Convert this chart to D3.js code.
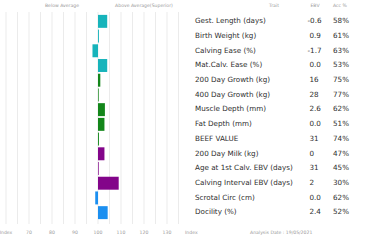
<!DOCTYPE html>
<html>
<head>
<meta charset="utf-8">
<script src="https://cdn.jsdelivr.net/npm/d3@7"></script>
<style>
  body { margin: 0; background: #fff; }
  text { font-family: "DejaVu Sans", sans-serif; }
</style>
</head>
<body>
<div id="chart"></div>
<script>
// trait table
var traits = ["Gest. Length (days)", "Birth Weight (kg)", "Calving Ease (%)", "Mat.Calv. Ease (%)",
    "200 Day Growth (kg)", "400 Day Growth (kg)", "Muscle Depth (mm)", "Fat Depth (mm)",
    "BEEF VALUE", "200 Day Milk (kg)", "Age at 1st Calv. EBV (days)", "Calving Interval EBV (days)",
    "Scrotal Circ (cm)", "Docility (%)"];
var ebv = ["-0.6", "0.9", "-1.7", "0.0", "16", "28", "2.6", "0.0", "31", "0", "31", "2", "0.0", "2.4"];
var acc = ["58%", "61%", "63%", "53%", "75%", "77%", "62%", "51%", "74%", "47%", "45%", "30%", "62%", "52%"];
// index value of each bar (100 = average)
var indexValues = [104, 100.4, 97.6, 104, 101, 100.3, 103, 102.8, 100.4, 102.8, 100.3, 109, 98.8, 104.2];
var groups = ["calving", "calving", "calving", "calving", "growth", "growth", "growth", "growth",
    "growth", "maternal", "maternal", "maternal", "other", "other"];
var axisTicks = [60, 70, 80, 90, 100, 110, 120, 130];

var width = 367, height = 242;
var colors = {calving: "#17b4bb", growth: "#13861a", maternal: "#83058a", other: "#1b8ff0"};

var svg = d3.select("#chart").append("svg")
    .attr("width", width)
    .attr("height", height);

var x = d3.scaleLinear().domain([60, 130]).range([6, 167]);
var y = d3.scaleBand().domain(d3.range(traits.length)).range([14, 220]).paddingInner(0.12).paddingOuter(0.06);

// grid lines every 5 index points
svg.append("g").selectAll("line")
    .data(d3.range(60, 140, 5))
    .enter()
    .append("line")
    .attr("x1", d => x(d)).attr("x2", d => x(d))
    .attr("y1", 12).attr("y2", 224)
    .attr("stroke", "#e6e6e6")
    .attr("stroke-width", 0.8);

// bars
svg.append("g").selectAll("rect")
    .data(indexValues)
    .enter()
    .append("rect")
    .attr("x", d => x(Math.min(d, 100)))
    .attr("width", d => Math.abs(x(d) - x(100)))
    .attr("y", (d, i) => y(i))
    .attr("height", y.bandwidth())
    .attr("fill", (d, i) => colors[groups[i]]);

// headers
var small = "#9a9a9a";
svg.append("text").attr("x", 62).attr("y", 7).attr("text-anchor", "middle")
    .attr("font-size", 4.6).attr("fill", small).text("Below Average");
svg.append("text").attr("x", 144).attr("y", 7).attr("text-anchor", "middle")
    .attr("font-size", 4.6).attr("fill", small).text("Above Average(Superior)");
svg.append("text").attr("x", 274).attr("y", 7).attr("text-anchor", "middle")
    .attr("font-size", 4.6).attr("fill", small).text("Trait");
svg.append("text").attr("x", 315).attr("y", 7).attr("text-anchor", "middle")
    .attr("font-size", 4.6).attr("fill", small).text("EBV");
svg.append("text").attr("x", 340).attr("y", 7).attr("text-anchor", "middle")
    .attr("font-size", 4.6).attr("fill", small).text("Acc %");

// table rows
var rows = svg.append("g").selectAll("g")
    .data(traits)
    .enter()
    .append("g")
    .attr("transform", (d, i) => "translate(0," + (y(i) + y.bandwidth() / 2 + 1.8) + ")");

rows.append("text").attr("x", 195).attr("font-size", 7.2).attr("fill", "#2e2e2e")
    .text(d => d);
rows.append("text").attr("x", (d, i) => ebv[i][0] == "-" ? 307.5 : 309.5).attr("font-size", 7.2).attr("fill", "#2e2e2e")
    .text((d, i) => ebv[i]);
rows.append("text").attr("x", 333).attr("font-size", 7.2).attr("fill", "#2e2e2e")
    .text((d, i) => acc[i]);

// bottom axis labels
svg.append("g").selectAll("text")
    .data(axisTicks)
    .enter()
    .append("text")
    .attr("x", d => x(d))
    .attr("y", 234)
    .attr("text-anchor", "middle")
    .attr("font-size", 4.6)
    .attr("fill", small)
    .text(d => d == 60 ? "Index" : d);

svg.append("text").attr("x", 185).attr("y", 234).attr("font-size", 4.6).attr("fill", small).text("Index");
svg.append("text").attr("x", 250).attr("y", 234).attr("font-size", 4.6).attr("fill", small).text("Analysis Date : 19/05/2021");
</script>
</body>
</html>
